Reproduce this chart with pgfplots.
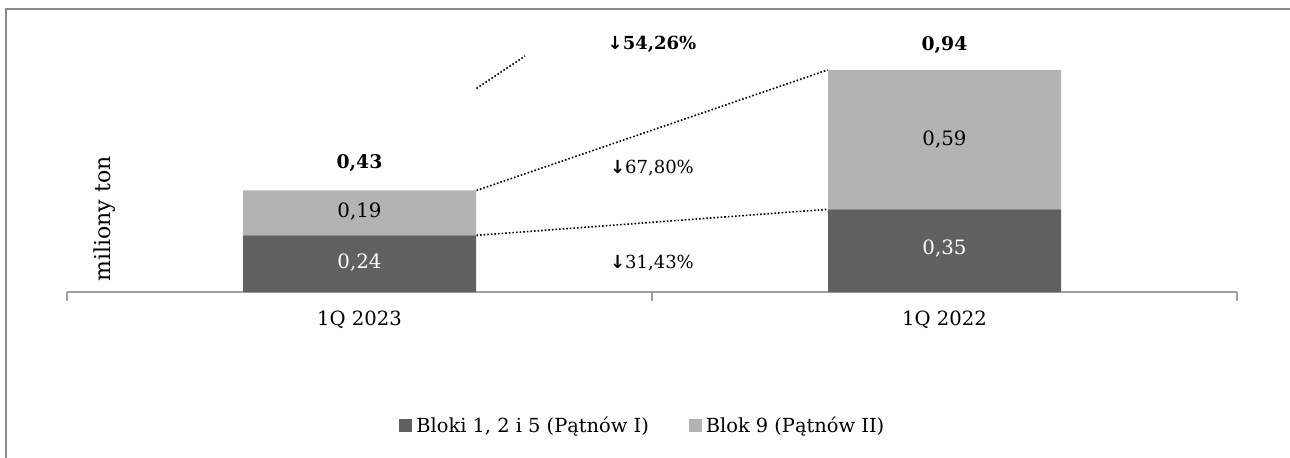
\documentclass[border=0pt]{standalone}
\usepackage{fontspec}
\setmainfont{DejaVu Serif}
\newfontfamily\symfont{DejaVu Sans}
\usepackage{pgfplots}
\pgfplotsset{compat=1.18}
\definecolor{darkbar}{HTML}{606060}
\definecolor{lightbar}{HTML}{B3B3B3}
\definecolor{framegray}{HTML}{8C8C8C}
\definecolor{axisgray}{HTML}{A0A0A0}
\newcommand{\dn}{{\symfont\bfseries ↓}}
\begin{document}
\fontsize{9}{11}\selectfont
\begin{tikzpicture}
\useasboundingbox (0,0) rectangle (645pt,228.5pt);
\draw[framegray, line width=1pt] (2.85pt,-5pt) -- (2.85pt,224.25pt) -- (650pt,224.25pt);
\begin{axis}[
  at={(33.5pt,82.5pt)}, anchor=south west,
  scale only axis, width=585pt, height=141.7pt,
  ybar stacked, bar width=116.5pt,
  xmin=-0.5, xmax=1.5, ymin=0, ymax=1.2,
  axis y line=none,
  axis x line*=bottom,
  x axis line style={axisgray, line width=1pt, -},
  xtick={0,1}, xticklabels={1Q 2023,1Q 2022},
  major x tick style={draw=none},
  minor xtick={-0.5,0.5,1.5},
  minor x tick style={axisgray, line width=1pt},
  minor tick length=4.5pt,
  tick align=outside,
  xticklabel style={font=\fontsize{9.8}{12}\selectfont, yshift=-2pt},
  legend style={at={(0.493,-0.472)}, anchor=center, draw=none, fill=none,
    legend columns=2, font=\fontsize{9.7}{12}\selectfont,
    /tikz/every even column/.append style={column sep=18pt}},
  legend cell align=left,
  legend image code/.code={\fill[#1] (0pt,-3.25pt) rectangle (6.5pt,3.25pt);},
  clip=false,
]
\addplot[fill=darkbar, draw=none] coordinates {(0,0.24) (1,0.35)};
\addlegendentry{Bloki 1, 2 i 5 (Pątnów I)}
\addplot[fill=lightbar, draw=none] coordinates {(0,0.19) (1,0.59)};
\addlegendentry{Blok 9 (Pątnów II)}

\coordinate (l1) at (axis cs:0,0.125);
\coordinate (l2) at (axis cs:1,0.185);
\coordinate (l3) at (axis cs:0,0.34);
\coordinate (l4) at (axis cs:1,0.645);
\coordinate (t1) at (axis cs:0,0.546);
\coordinate (t2) at (axis cs:1,1.046);
\coordinate (a1) at (axis cs:0.2,0.43);
\coordinate (b1) at (axis cs:0.8,0.94);
\coordinate (a2) at (axis cs:0.2,0.24);
\coordinate (b2) at (axis cs:0.8,0.35);
\coordinate (a3) at (axis cs:0.2,0.862);
\coordinate (b3) at (axis cs:0.283,0.999);
\coordinate (p1) at (axis cs:0.5,1.05);
\coordinate (p2) at (axis cs:0.5,0.525);
\coordinate (p3) at (axis cs:0.5,0.123);
\coordinate (yl) at (axis cs:-0.435,0.309);
\end{axis}
\node[white, font=\fontsize{9.9}{12}\selectfont] at (l1) {0,24};
\node[white, font=\fontsize{9.9}{12}\selectfont] at (l2) {0,35};
\node[font=\fontsize{9.9}{12}\selectfont] at (l3) {0,19};
\node[font=\fontsize{9.9}{12}\selectfont] at (l4) {0,59};
\node[font=\fontsize{9.4}{11}\selectfont\bfseries] at (t1) {0,43};
\node[font=\fontsize{9.4}{11}\selectfont\bfseries] at (t2) {0,94};
\draw[densely dotted, line width=0.8pt] (a1) -- (b1);
\draw[densely dotted, line width=0.8pt] (a2) -- (b2);
\draw[densely dotted, line width=0.8pt] (a3) -- (b3);
\node[font=\fontsize{9}{11}\selectfont\bfseries] at (p1) {\dn54,26\%};
\node at (p2) {\dn67,80\%};
\node at (p3) {\dn31,43\%};
\node[rotate=90, font=\fontsize{11}{13}\selectfont] at (yl) {miliony ton};
\end{tikzpicture}
\end{document}
